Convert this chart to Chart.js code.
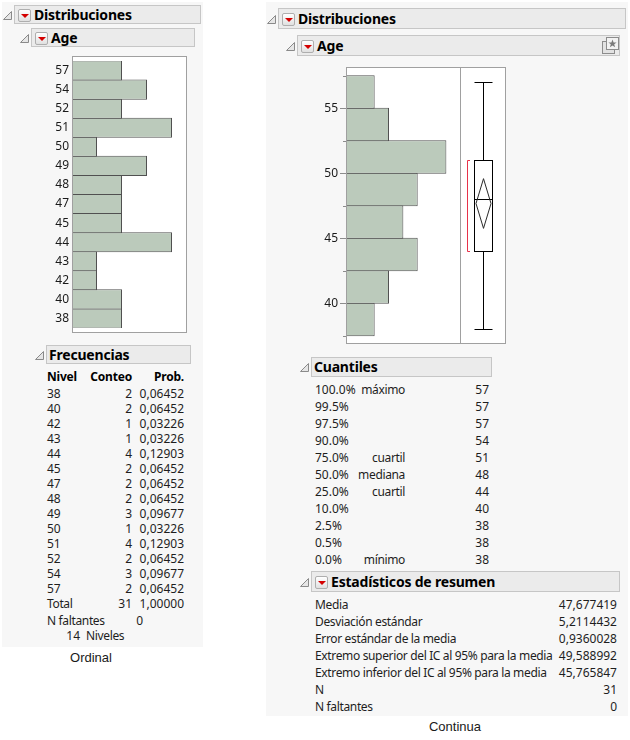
<!DOCTYPE html>
<html>
<head>
<meta charset="utf-8">
<script src="https://cdn.jsdelivr.net/npm/chart.js"></script>
<style>
  body { margin: 0; width: 630px; height: 740px; position: relative; overflow: hidden;
         background: #fff; font-family: "Noto Sans", sans-serif; font-size: 12px; color: #1e1e1e; }
  .panel { position: absolute; background: #f7f7f7; }
  .hdr { position: absolute; box-sizing: border-box; background: #ebebeb; border: 1px solid #c6c6c6; }
  .menu { position: absolute; width: 13px; height: 13px; box-sizing: border-box; border: 1px solid #aeaeae;
          border-radius: 2px; background: linear-gradient(#ffffff, #e0e0e0); }
  .menu:after { content: ""; position: absolute; left: 2px; top: 4px; border-left: 4px solid transparent;
                border-right: 4px solid transparent; border-top: 4px solid #d40000; }
  .txt { position: absolute; white-space: nowrap; line-height: 16px; height: 16px; }
  .w { letter-spacing: -0.35px; }
  .b { font-weight: bold; color: #000; letter-spacing: -0.2px; }
  .h { font-weight: bold; font-size: 14px; color: #000; line-height: 20px; height: 20px; letter-spacing: -0.2px; }
  .cap { font-family: "Liberation Sans", Arial, sans-serif; font-size: 13px; color: #1a1a1a; }
  canvas, svg { position: absolute; }
</style>
</head>
<body>
<div class="panel" style="left:2px; top:2px; width:201px; height:645px"></div>
<div class="panel" style="left:266px; top:2px; width:362px; height:714px"></div>
<canvas id="ordChart" width="158" height="277" style="left:30px; top:56px"></canvas>
<canvas id="contChart" width="201" height="278" style="left:306px; top:67px"></canvas>

<script>
// Age, modelled as ordinal: levels and counts
const levels = ['38', '40', '42', '43', '44', '45', '47', '48', '49', '50', '51', '52', '54', '57'];
const counts = [2, 2, 1, 1, 4, 2, 2, 2, 3, 1, 4, 2, 3, 2];
const probs = ['0,06452', '0,06452', '0,03226', '0,03226', '0,12903', '0,06452', '0,06452',
               '0,06452', '0,09677', '0,03226', '0,12903', '0,06452', '0,09677', '0,06452'];

// Age, modelled as continuous: histogram bins
const binStarts = [37.5, 40, 42.5, 45, 47.5, 50, 52.5, 55];
const binCounts = [2, 3, 5, 4, 5, 7, 3, 2];
const binWidth = 2.5;
const ageTicks = [40, 45, 50, 55];

// box plot numbers
const ageMin = 38, ageQ1 = 44, ageMedian = 48, ageQ3 = 51, ageMax = 57;
const ageMean = 47.677419, ageCiLow = 45.765847, ageCiHigh = 49.588992;
const shortHalf = [44, 51];

// quantiles table
const quantPct = ['100.0%', '99.5%', '97.5%', '90.0%', '75.0%', '50.0%', '25.0%', '10.0%', '2.5%', '0.5%', '0.0%'];
const quantName = ['máximo', '', '', '', 'cuartil', 'mediana', 'cuartil', '', '', '', 'mínimo'];
const quantVal = ['57', '57', '57', '54', '51', '48', '44', '40', '38', '38', '38'];

// summary statistics table
const statNames = ['Media', 'Desviación estándar', 'Error estándar de la media',
                   'Extremo superior del IC al 95% para la media', 'Extremo inferior del IC al 95% para la media',
                   'N', 'N faltantes'];
const statVals = ['47,677419', '5,2114432', '0,9360028', '49,588992', '45,765847', '31', '0'];

const BAR_FILL = '#bbcabb';
const BAR_EDGE = '#505050';
const FRAME = '#a0a0a0';

// ---- html helpers ----
function put(text, x, y, align, cls) {
    const d = document.createElement('div');
    d.className = 'txt' + (cls ? ' ' + cls : '');
    d.textContent = text;
    const h = cls === 'h' ? 10 : 8;
    d.style.top = (y - h) + 'px';
    if (align === 'right') d.style.right = (630 - x) + 'px';
    else if (align === 'center') { d.style.left = (x - 100) + 'px'; d.style.width = '200px'; d.style.textAlign = 'center'; }
    else d.style.left = x + 'px';
    document.body.appendChild(d);
}

function tri(x, y) {
    document.body.insertAdjacentHTML('beforeend',
        `<svg style="left:${x}px; top:${y - 4}px" width="9" height="9">` +
        `<polygon points="0.5,8.5 8.5,0.5 8.5,8.5" fill="#e6e6e6" stroke="#8a8a8a"/></svg>`);
}

function header(x, y, w, h, title, menu) {
    const box = document.createElement('div');
    box.className = 'hdr';
    Object.assign(box.style, { left: x + 'px', top: y + 'px', width: w + 'px', height: h + 'px' });
    document.body.appendChild(box);
    tri(x - 11, y + h / 2);
    let tx = x + 3;
    if (menu) {
        const m = document.createElement('div');
        m.className = 'menu';
        Object.assign(m.style, { left: (x + 4) + 'px', top: (y + Math.round(h / 2) - 6) + 'px' });
        document.body.appendChild(m);
        tx = x + 20;
    }
    put(title, tx, y + h / 2, 'left', 'h');
}

// ---- left side (Ordinal) ----
header(14, 5, 187, 19, 'Distribuciones', true);
header(31, 28, 164, 19, 'Age', true);
header(46, 345, 145, 19, 'Frecuencias', false);

put('Nivel', 47, 377, 'left', 'b');
put('Conteo', 132, 377, 'right', 'b');
put('Prob.', 184, 377, 'right', 'b');
levels.forEach((lv, i) => {
    const y = 393.5 + i * 15;
    put(lv, 47, y);
    put(String(counts[i]), 132, y, 'right');
    put(probs[i], 184, y, 'right');
});
put('Total', 47, 604, 'left', 'w');
put(String(counts.reduce((a, b) => a + b, 0)), 132, 604, 'right');
put('1,00000', 184, 604, 'right');
put('N faltantes', 47, 621, 'left', 'w');
put('0', 143, 621, 'right');
put(String(levels.length), 80, 636, 'right');
put('Niveles', 86, 636, 'left', 'w');
put('Ordinal', 91, 658, 'center', 'cap');

// ---- right side (Continua) ----
header(278, 8, 348, 21, 'Distribuciones', true);
header(297, 35, 323, 21, 'Age', true);
document.body.insertAdjacentHTML('beforeend',
    '<svg style="left:602px; top:37px" width="18" height="18">' +
    '<rect x="0.5" y="4.5" width="12" height="12" fill="#e2e2e2" stroke="#8c8c8c"/>' +
    '<rect x="4.5" y="0.5" width="12" height="12" fill="#f2f2f2" stroke="#8c8c8c"/>' +
    '<polygon points="10.5,2.5 11.6,5.4 14.6,5.5 12.2,7.3 13.1,10.2 10.5,8.5 7.9,10.2 8.8,7.3 6.4,5.5 9.4,5.4" fill="#7a7a7a"/></svg>');

header(311, 357, 181, 20, 'Cuantiles', false);
quantPct.forEach((p, i) => {
    const y = 390 + i * 17;
    put(p, 315, y);
    if (quantName[i]) put(quantName[i], 405, y, 'right', 'w');
    put(quantVal[i], 489, y, 'right');
});

header(311, 571, 309, 21, 'Estadísticos de resumen', true);
statNames.forEach((n, i) => {
    const y = 605 + i * 17;
    put(n, 315, y, 'left', 'w');
    put(statVals[i], 617, y, 'right');
});
put('Continua', 455, 727, 'center', 'cap');

// ---- charts ----
Chart.defaults.font.family = '"Noto Sans", sans-serif';
Chart.defaults.font.size = 12;
Chart.defaults.color = '#1a1a1a';

// white plot frame around the chart area (plus extra room for the box plot)
const framePlugin = {
    id: 'frame',
    beforeDatasetsDraw(chart, args, opts) {
        const a = chart.chartArea, ctx = chart.ctx;
        ctx.save();
        ctx.fillStyle = '#fff';
        ctx.fillRect(a.left, a.top - opts.padY, a.right + opts.extraRight - a.left, a.bottom - a.top + 2 * opts.padY);
        ctx.restore();
    },
    afterDraw(chart, args, opts) {
        const a = chart.chartArea, ctx = chart.ctx;
        ctx.save();
        ctx.strokeStyle = FRAME;
        ctx.lineWidth = 1;
        ctx.strokeRect(Math.round(a.left) + 0.5, Math.round(a.top - opts.padY) + 0.5,
                       Math.round(a.right + opts.extraRight - a.left) - 1, Math.round(a.bottom - a.top + 2 * opts.padY) - 1);
        if (opts.extraRight) {
            ctx.beginPath();
            ctx.moveTo(Math.round(a.right) + 0.5, a.top);
            ctx.lineTo(Math.round(a.right) + 0.5, a.bottom);
            ctx.stroke();
        }
        ctx.restore();
    }
};

// minor ticks at the bin edges and the outlier box plot to the right of the histogram
const boxPlugin = {
    id: 'boxplot',
    afterDraw(chart) {
        const a = chart.chartArea, ctx = chart.ctx, ys = chart.scales.y;
        const Y = v => ys.getPixelForValue(v);
        ctx.save();
        ctx.lineWidth = 1;
        ctx.strokeStyle = '#8c8c8c';
        const edges = binStarts.concat([binStarts[binStarts.length - 1] + binWidth]);
        edges.forEach(v => {
            ctx.beginPath();
            ctx.moveTo(a.left - 3, Math.round(Y(v)) + 0.5);
            ctx.lineTo(a.left, Math.round(Y(v)) + 0.5);
            ctx.stroke();
        });

        const x0 = a.right;
        const xc = x0 + 23.5, bl = x0 + 14.5, br = x0 + 32.5;
        const py = v => Math.round(Y(v)) + 0.5;
        ctx.strokeStyle = '#000';
        ctx.beginPath();
        ctx.moveTo(xc, py(ageMax)); ctx.lineTo(xc, py(ageQ3));
        ctx.moveTo(xc, py(ageQ1)); ctx.lineTo(xc, py(ageMin));
        ctx.moveTo(bl, py(ageMax)); ctx.lineTo(br, py(ageMax));
        ctx.moveTo(bl, py(ageMin)); ctx.lineTo(br, py(ageMin));
        ctx.moveTo(bl, py(ageMedian)); ctx.lineTo(br, py(ageMedian));
        ctx.stroke();
        ctx.strokeRect(bl, py(ageQ3), br - bl, py(ageQ1) - py(ageQ3));

        // mean diamond
        ctx.strokeStyle = '#2a2a2a';
        ctx.beginPath();
        ctx.moveTo(xc, Y(ageCiHigh));
        ctx.lineTo(x0 + 31, Y(ageMean));
        ctx.lineTo(xc, Y(ageCiLow));
        ctx.lineTo(x0 + 16, Y(ageMean));
        ctx.closePath();
        ctx.stroke();

        // shortest half bracket
        ctx.strokeStyle = '#e8324a';
        ctx.beginPath();
        ctx.moveTo(x0 + 10, py(shortHalf[1])); ctx.lineTo(x0 + 7.5, py(shortHalf[1]));
        ctx.lineTo(x0 + 7.5, py(shortHalf[0])); ctx.lineTo(x0 + 10, py(shortHalf[0]));
        ctx.stroke();
        ctx.restore();
    }
};

// no extra label padding above/below the vertical axes
function fixAxis(width) {
    return s => { s.width = width; s.paddingTop = 0; s.paddingBottom = 0; };
}

new Chart(document.getElementById('ordChart'), {
    type: 'bar',
    data: {
        labels: levels,
        datasets: [{
            data: counts,
            backgroundColor: BAR_FILL,
            borderColor: BAR_EDGE,
            borderWidth: 1,
            borderSkipped: false,
            categoryPercentage: 1,
            barPercentage: 1.053
        }]
    },
    options: {
        indexAxis: 'y',
        responsive: false,
        animation: false,
        events: [],
        layout: { padding: { top: 5, bottom: 5, right: 1 } },
        plugins: {
            legend: { display: false },
            tooltip: { enabled: false },
            frame: { padY: 5, extraRight: 0 }
        },
        scales: {
            x: { display: false, min: 0, max: 4.6 },
            y: {
                reverse: true,
                grid: { display: false, drawTicks: false },
                border: { display: false },
                ticks: { padding: 3 },
                afterFit: fixAxis(42)
            }
        }
    },
    plugins: [framePlugin]
});

new Chart(document.getElementById('contChart'), {
    type: 'bar',
    data: {
        datasets: [{
            data: binStarts.map((b, i) => ({ x: binCounts[i], y: b + binWidth / 2 })),
            backgroundColor: BAR_FILL,
            borderColor: BAR_EDGE,
            borderWidth: 1,
            borderSkipped: false,
            categoryPercentage: 1,
            barPercentage: 1.031
        }]
    },
    options: {
        indexAxis: 'y',
        responsive: false,
        animation: false,
        events: [],
        layout: { padding: { top: 0, bottom: 1, right: 47 } },
        plugins: {
            legend: { display: false },
            tooltip: { enabled: false },
            frame: { padY: 0, extraRight: 46 }
        },
        scales: {
            x: { display: false, min: 0, max: 7.95 },
            y: {
                type: 'linear',
                offset: false,
                min: 36.87,
                max: 58.18,
                afterBuildTicks: s => { s.ticks = ageTicks.map(v => ({ value: v })); },
                grid: { offset: false, drawOnChartArea: false, tickLength: 6, color: '#8c8c8c' },
                border: { display: false },
                ticks: { padding: 2 },
                afterFit: fixAxis(40)
            }
        }
    },
    plugins: [framePlugin, boxPlugin]
});
</script>
</body>
</html>
